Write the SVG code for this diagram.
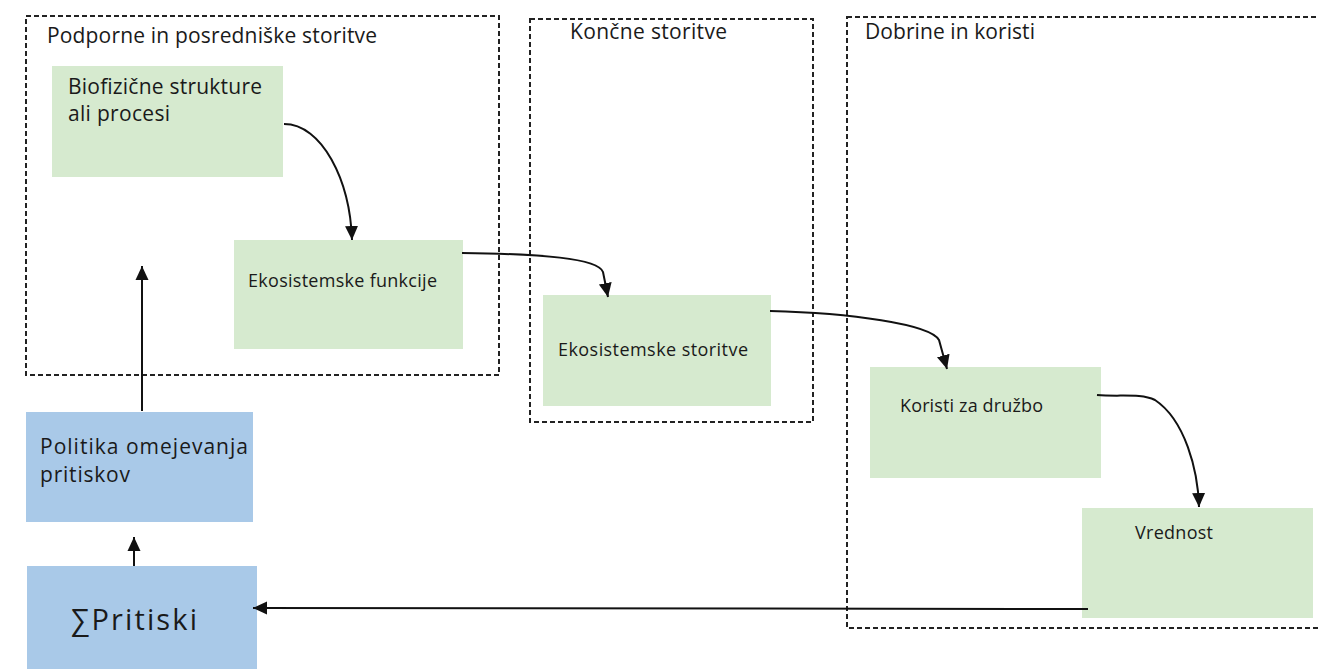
<svg xmlns="http://www.w3.org/2000/svg" width="1319" height="669" viewBox="0 0 1319 669">
<style>
.frame{fill:none;stroke:#222;stroke-width:2;stroke-dasharray:5,3}
.green{fill:#d6eacf}
.blue{fill:#a9c9e8}
.t{font-family:"Open Sans",Lato,sans-serif;fill:#1a1a1a}
.title{font-size:21px}
.big{font-size:21px}
.small{font-size:18px}
.conn{fill:none;stroke:#111;stroke-width:2}
</style>
<defs>
<marker id="ah" markerUnits="userSpaceOnUse" markerWidth="15" markerHeight="15" viewBox="0 0 15 15" refX="14" refY="7.5" orient="auto">
<path d="M0,1 L14,7.5 L0,14 z" fill="#111"/>
</marker>
</defs>
<rect width="1319" height="669" fill="#fff"/>
<g id="frame-podporne">
<rect class="frame" x="26" y="16" width="473" height="359"/>
<text class="t title" x="47" y="43" textLength="330" lengthAdjust="spacing">Podporne in posredniške storitve</text>
</g>
<g id="frame-koncne">
<rect class="frame" x="530" y="19" width="283" height="403"/>
<text class="t title" x="570" y="39" textLength="157" lengthAdjust="spacing">Končne storitve</text>
</g>
<g id="frame-dobrine">
<rect class="frame" x="847" y="17" width="490" height="611"/>
<text class="t title" x="865" y="39" textLength="170" lengthAdjust="spacing">Dobrine in koristi</text>
</g>
<g id="node-biofizicne">
<rect class="green" x="52" y="66" width="231" height="111"/>
<text class="t big" x="68" y="94" textLength="194" lengthAdjust="spacing">Biofizične strukture</text>
<text class="t big" x="68" y="121" textLength="102" lengthAdjust="spacing">ali procesi</text>
</g>
<g id="node-funkcije">
<rect class="green" x="234" y="240" width="229" height="109"/>
<text class="t small" x="248" y="287" textLength="189" lengthAdjust="spacing">Ekosistemske funkcije</text>
</g>
<g id="node-storitve">
<rect class="green" x="543" y="295" width="228" height="111"/>
<text class="t small" x="558" y="356" textLength="190" lengthAdjust="spacing">Ekosistemske storitve</text>
</g>
<g id="node-koristi">
<rect class="green" x="870" y="367" width="231" height="111"/>
<text class="t small" x="900" y="412" textLength="143" lengthAdjust="spacing">Koristi za družbo</text>
</g>
<g id="node-vrednost">
<rect class="green" x="1082" y="508" width="231" height="110"/>
<text class="t small" x="1135" y="539" textLength="78" lengthAdjust="spacing">Vrednost</text>
</g>
<g id="node-politika">
<rect class="blue" x="26" y="412" width="227" height="110"/>
<text class="t big" x="40" y="454" textLength="208" lengthAdjust="spacing">Politika omejevanja</text>
<text class="t big" x="40" y="482" textLength="90" lengthAdjust="spacing">pritiskov</text>
</g>
<g id="node-pritiski">
<rect class="blue" x="27" y="566" width="230" height="110"/>
<text class="t" x="71" y="630" font-size="29" textLength="126" lengthAdjust="spacing">∑Pritiski</text>
</g>
<g id="connectors">
<path class="conn" d="M284,124 C322,124 350,180 352,240" marker-end="url(#ah)"/>
<path class="conn" d="M462,253 C540,254 598,258 603,272 L608,297" marker-end="url(#ah)"/>
<path class="conn" d="M770,311 C850,313 930,324 939,340 L947,369" marker-end="url(#ah)"/>
<path class="conn" d="M1097,395 C1120,397 1140,393 1155,400 C1185,420 1198,470 1199,507" marker-end="url(#ah)"/>
<path class="conn" d="M1088,609 L253,608" marker-end="url(#ah)"/>
<path class="conn" d="M142,411 L142,266" marker-end="url(#ah)"/>
<path class="conn" d="M134,566 L134,537" marker-end="url(#ah)"/>
</g>
</svg>
